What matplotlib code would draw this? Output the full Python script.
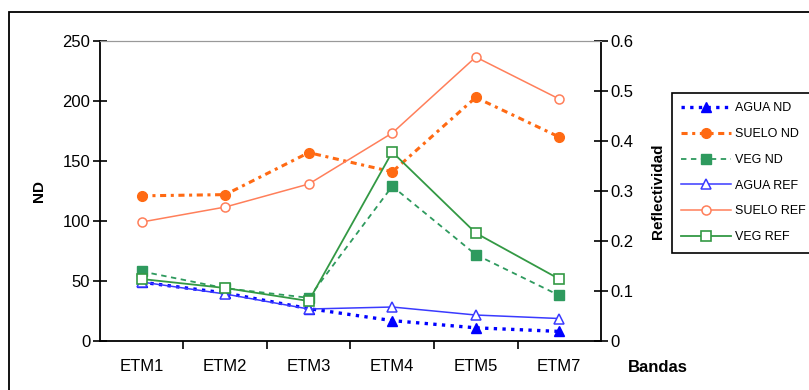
import matplotlib.pyplot as plt
from matplotlib.patches import Rectangle

plt.rcParams['font.family'] = ['Liberation Sans', 'DejaVu Sans']

bandas = ["ETM1", "ETM2", "ETM3", "ETM4", "ETM5", "ETM7"]

# niveles digitales (eje izquierdo)
agua_nd = [49, 40, 27, 17, 11, 8]
suelo_nd = [121, 122, 157, 141, 203, 170]
veg_nd = [58, 44, 36, 129, 72, 38]

# reflectividad (eje derecho)
agua_ref = [0.118, 0.094, 0.064, 0.068, 0.052, 0.045]
suelo_ref = [0.238, 0.268, 0.314, 0.416, 0.568, 0.484]
veg_ref = [0.124, 0.106, 0.080, 0.378, 0.216, 0.124]

nd_ticks = [0, 50, 100, 150, 200, 250]
ref_ticks = [0, 0.1, 0.2, 0.3, 0.4, 0.5, 0.6]

fig = plt.figure(figsize=(8.09, 3.9), dpi=100)
ax = fig.add_axes([0.1236, 0.1256, 0.6193, 0.7692])
ax2 = ax.twinx()

x = list(range(len(bandas)))

h1, = ax.plot(x, agua_nd, color="#0000ff", lw=2.4, ls=(0, (1, 1.6)),
              marker="^", ms=6.5, mfc="#0000ff", mec="#0000ff", label="AGUA ND")
h2, = ax.plot(x, suelo_nd, color="#ff6a13", lw=2.2, ls=(0, (2, 1.5, 1, 1.5)),
              marker="o", ms=7, mfc="#ff6a13", mec="#ff6a13", label="SUELO ND")
h3, = ax.plot(x, veg_nd, color="#2e9a5e", lw=1.3, ls=(0, (3, 2.5)),
              marker="s", ms=6.5, mfc="#2e9a5e", mec="#2e9a5e", label="VEG ND")

h4, = ax2.plot(x, agua_ref, color="#3a3aff", lw=1.1, marker="^", ms=6.5,
               mfc="white", mec="#3a3aff", mew=1.1, label="AGUA REF")
h5, = ax2.plot(x, suelo_ref, color="#ff7f5a", lw=1.1, marker="o", ms=6.5,
               mfc="white", mec="#ff7f5a", mew=1.1, label="SUELO REF")
h6, = ax2.plot(x, veg_ref, color="#339944", lw=1.3, marker="s", ms=6.5,
               mfc="white", mec="#339944", mew=1.2, label="VEG REF")

ax.set_xlim(-0.5, 5.5)
ax.set_ylim(0, 250)
ax2.set_ylim(0, 0.6)

ax.set_xticks([0.5, 1.5, 2.5, 3.5, 4.5])
ax.set_xticklabels([])
ax.set_xticks(x, minor=True)
ax.set_xticklabels(bandas, minor=True, fontsize=12)
ax.tick_params(axis="x", which="major", direction="out", length=6, width=1.2)
ax.tick_params(axis="x", which="minor", length=0, pad=13)

ax.set_yticks(nd_ticks)
ax.tick_params(axis="y", direction="inout", length=10, width=1.2, labelsize=12, pad=2)
ax2.set_yticks(ref_ticks)
ax2.set_yticklabels(["0", "0.1", "0.2", "0.3", "0.4", "0.5", "0.6"])
ax2.tick_params(axis="y", direction="inout", length=10, width=1.2, labelsize=12, pad=2)

for a in (ax, ax2):
    a.spines["top"].set_color("#999999")
    a.spines["top"].set_linewidth(0.8)
ax.spines["right"].set_visible(False)
ax2.spines["left"].set_visible(False)
ax.spines["left"].set_linewidth(1.3)
ax.spines["bottom"].set_linewidth(1.3)
ax2.spines["right"].set_linewidth(1.3)
ax2.spines["bottom"].set_visible(False)

ax.set_ylabel("ND", fontsize=11, fontweight="bold", labelpad=12)
ax2.set_ylabel("Reflectividad", fontsize=11, fontweight="bold", labelpad=12)
fig.text(658 / 809, 1 - 368 / 390, "Bandas", fontsize=12, fontweight="bold",
         ha="center", va="center")

leg = fig.legend(handles=[h1, h2, h3, h4, h5, h6], loc="upper left",
                 bbox_to_anchor=(672 / 809, 1 - 93 / 390), fontsize=9,
                 frameon=True, fancybox=False, edgecolor="black", framealpha=1,
                 handlelength=4.0, handletextpad=0.3, labelspacing=1.1,
                 borderpad=0.75, borderaxespad=0)
leg.get_frame().set_linewidth(1.2)

fig.patches.append(Rectangle((9 / 809, -0.1), 1.2, 1 - 12 / 390 + 0.1,
                             transform=fig.transFigure, fill=False,
                             edgecolor="black", lw=1.3, zorder=0))

fig.savefig("out.png", dpi=100)
